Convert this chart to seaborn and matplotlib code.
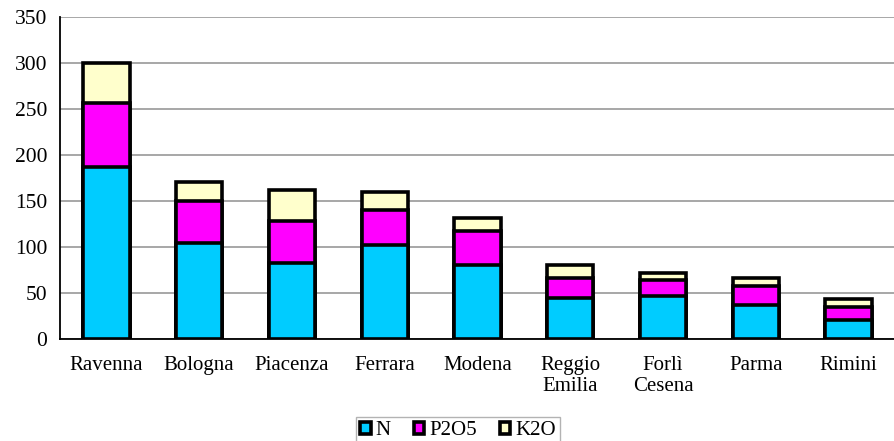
import numpy as np
import pandas as pd
import matplotlib
matplotlib.use('Agg')
import matplotlib.pyplot as plt
import seaborn as sns
from matplotlib.patches import Patch

# Values
provinces = ['Ravenna', 'Bologna', 'Piacenza', 'Ferrara', 'Modena',
             'Reggio\nEmilia', 'Forlì\nCesena', 'Parma', 'Rimini']
n_vals = [187, 104, 83, 102, 81, 45, 47, 37, 21]
p2o5_vals = [70, 46, 45, 38, 37, 21, 17, 21, 14]
k2o_vals = [43, 21, 34, 20, 14, 15, 8, 9, 9]

colors = {'N': '#00CCFF', 'P2O5': '#FF00FF', 'K2O': '#FFFFCC'}

df = pd.DataFrame({'Provincia': provinces, 'N': n_vals,
                   'P2O5': p2o5_vals, 'K2O': k2o_vals})
df['N_P'] = df['N'] + df['P2O5']
df['Tot'] = df['N_P'] + df['K2O']

sns.set_style('white')
plt.rcParams['font.family'] = ['Liberation Serif', 'DejaVu Serif']
plt.rcParams['font.size'] = 15
plt.rcParams['text.color'] = 'black'
plt.rcParams['xtick.color'] = 'black'
plt.rcParams['ytick.color'] = 'black'
plt.rcParams['axes.labelcolor'] = 'black'

fig = plt.figure(figsize=(8.95, 4.41), dpi=100)
ax = fig.add_axes([0.067, 0.231, 0.933, 0.73])

# Stacked bars: draw cumulative totals, tallest first
for col, c in [('Tot', colors['K2O']), ('N_P', colors['P2O5']), ('N', colors['N'])]:
    sns.barplot(x='Provincia', y=col, data=df, color=c, saturation=1, width=0.5,
                edgecolor='black', linewidth=2.6, ax=ax, zorder=3)

ax.set_ylim(0, 350)
ax.set_xlim(-0.5, len(provinces) - 0.5)
ax.set_yticks(np.arange(0, 351, 50))
ax.yaxis.grid(True, color='#a0a0a0', linewidth=1.3, zorder=0)
ax.set_axisbelow(True)
ax.set_xlabel('')
ax.set_ylabel('')

for s in ['top', 'right']:
    ax.spines[s].set_visible(False)
for s in ['left', 'bottom']:
    ax.spines[s].set_color('black')
    ax.spines[s].set_linewidth(1.3)
    ax.spines[s].set_zorder(4)

ax.tick_params(axis='x', which='major', length=0, pad=12, labelsize=15)
ax.set_xticks(np.arange(0.5, len(provinces) - 0.5), minor=True)
ax.tick_params(axis='x', which='minor', length=6, width=1.2, color='black', direction='out')
ax.tick_params(axis='y', length=6, width=1.2, color='black', direction='out', labelsize=15.5, pad=3)
for lbl in ax.get_xticklabels():
    lbl.set_verticalalignment('top')
    lbl.set_linespacing(1.15)

handles = [Patch(facecolor=colors[k], edgecolor='black', linewidth=2.6, label=k)
           for k in ['N', 'P2O5', 'K2O']]
fig.legend(handles=handles, loc='upper center', bbox_to_anchor=(0.512, 0.054),
           ncol=3, frameon=True, fancybox=False, edgecolor='#a0a0a0',
           handlelength=0.5, handleheight=0.5, handletextpad=0.25,
           columnspacing=1.1, borderpad=0.2, borderaxespad=0.0, fontsize=15)

fig.savefig('out.png', dpi=100)
